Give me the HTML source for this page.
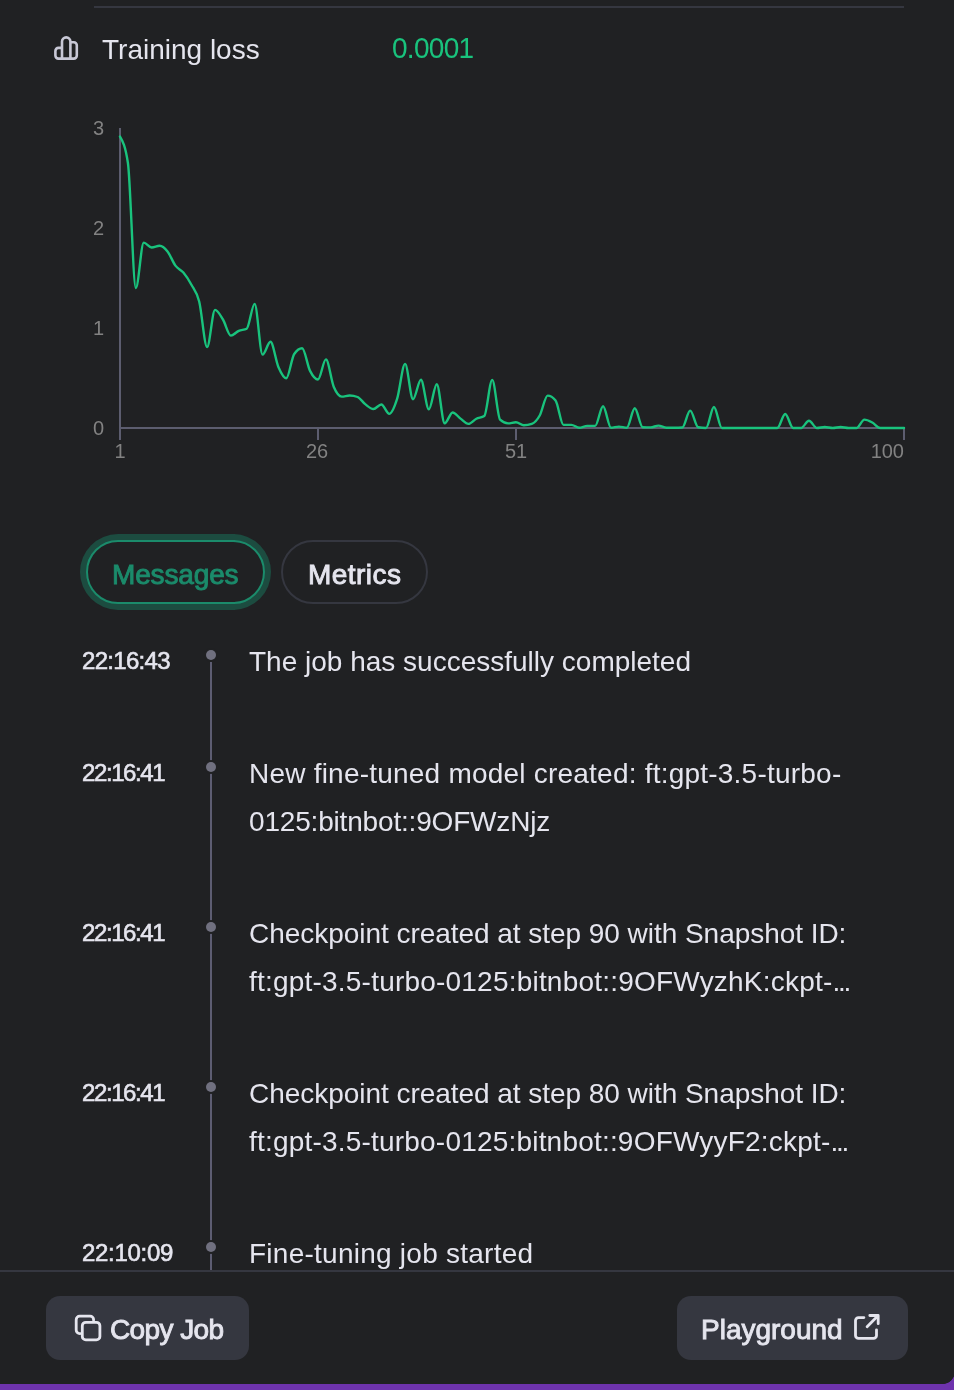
<!DOCTYPE html>
<html><head><meta charset="utf-8">
<style>
*{box-sizing:border-box;margin:0;padding:0}
html,body{width:954px;height:1390px;overflow:hidden}
body{background:#6e33ad;font-family:"Liberation Sans",sans-serif;position:relative}
#panel{position:absolute;left:-20px;top:0;width:975px;height:1384px;background:#202123;border-bottom-right-radius:13px;overflow:hidden}
#in{will-change:transform;position:absolute;left:20px;top:0;width:954px;height:1384px}
.abs{position:absolute;white-space:nowrap}
.t28{font-size:28px;line-height:48px;color:#e5e5ee}
.time{font-size:24px;line-height:48px;color:#e5e5ee;-webkit-text-stroke:0.6px #e5e5ee;letter-spacing:-0.7px}
.btn{position:absolute;border-radius:14px;background:#353740}
.bt{font-size:28px;line-height:48px;color:#e5e5ee;-webkit-text-stroke:0.9px #e5e5ee}
</style></head><body>
<div id="panel"><div id="in">
<div class="abs" style="left:94px;top:6px;width:810px;height:2px;background:#353740"></div>
<svg class="abs" style="left:0;top:0" width="100" height="80" viewBox="0 0 100 80">
 <path d="M55.4,55.6 V50.9 a3,3 0 0 1 3,-3 H62 V41.6 a4.2,4.2 0 0 1 8.4,0 V42.2 H73.8 a3,3 0 0 1 3,3 V55.6 a3,3 0 0 1 -3,3 H58.4 a3,3 0 0 1 -3,-3 Z M62,47.9 V58.6 M70.4,42.2 V58.6" fill="none" stroke="#c8c8d6" stroke-width="2.6" stroke-linejoin="round"/>
</svg>
<div class="abs" style="left:102px;top:29.6px;font-size:28px;line-height:40px;color:#e5e5ee">Training loss</div>
<div class="abs" style="left:392px;top:29.3px;font-size:28px;line-height:40px;color:#19c37d;letter-spacing:-0.7px;transform:scaleY(1.07);transform-origin:0 29.4px">0.0001</div>
<svg class="abs" style="left:0;top:0" width="954" height="480" viewBox="0 0 954 480">
 <g stroke="#5c5d6f" stroke-width="2" fill="none">
  <path d="M120,128V440"/>
  <path d="M120,428H904"/>
  <path d="M318,428V440M516,428V440M904,428V440"/>
 </g>
 <g fill="#828282" font-family="Liberation Sans" font-size="20">
  <text x="104" y="135" text-anchor="end">3</text>
  <text x="104" y="235" text-anchor="end">2</text>
  <text x="104" y="335" text-anchor="end">1</text>
  <text x="104" y="435" text-anchor="end">0</text>
  <text x="120" y="458" text-anchor="middle">1</text>
  <text x="317" y="458" text-anchor="middle">26</text>
  <text x="516" y="458" text-anchor="middle">51</text>
  <text x="904" y="458" text-anchor="end">100</text>
 </g>
 <path d="M120.00,136.60C122.64,141.00,125.28,145.40,127.92,163.00C130.56,180.60,133.20,288.00,135.84,288.00C138.48,288.00,141.12,242.60,143.76,242.60C146.40,242.60,149.04,247.50,151.68,247.50C154.32,247.50,156.96,245.80,159.60,245.80C162.24,245.80,164.88,248.10,167.52,251.40C170.15,254.70,172.79,262.07,175.43,265.60C178.07,269.13,180.71,269.45,183.35,272.60C185.99,275.75,188.63,279.68,191.27,284.50C193.91,289.32,196.55,291.08,199.19,301.50C201.83,311.92,204.47,347.00,207.11,347.00C209.75,347.00,212.39,309.90,215.03,309.90C217.67,309.90,220.31,315.22,222.95,319.50C225.59,323.78,228.23,335.60,230.87,335.60C233.51,335.60,236.15,331.95,238.79,330.80C241.43,329.65,244.07,330.10,246.71,328.70C249.35,327.30,251.99,303.90,254.63,303.90C257.27,303.90,259.91,354.60,262.55,354.60C265.19,354.60,267.82,341.80,270.46,341.80C273.10,341.80,275.74,360.92,278.38,367.00C281.02,373.08,283.66,378.30,286.30,378.30C288.94,378.30,291.58,357.80,294.22,354.00C296.86,350.20,299.50,348.30,302.14,348.30C304.78,348.30,307.42,365.70,310.06,370.90C312.70,376.10,315.34,379.50,317.98,379.50C320.62,379.50,323.26,359.40,325.90,359.40C328.54,359.40,331.18,380.80,333.82,387.00C336.46,393.20,339.10,396.60,341.74,396.60C344.38,396.60,347.02,395.50,349.66,395.50C352.30,395.50,354.94,396.00,357.58,397.00C360.22,398.00,362.86,402.40,365.49,404.40C368.13,406.40,370.77,409.00,373.41,409.00C376.05,409.00,378.69,404.50,381.33,404.50C383.97,404.50,386.61,413.90,389.25,413.90C391.89,413.90,394.53,407.03,397.17,398.70C399.81,390.37,402.45,363.90,405.09,363.90C407.73,363.90,410.37,399.20,413.01,399.20C415.65,399.20,418.29,379.80,420.93,379.80C423.57,379.80,426.21,409.40,428.85,409.40C431.49,409.40,434.13,384.20,436.77,384.20C439.41,384.20,442.05,423.30,444.69,423.30C447.33,423.30,449.97,412.50,452.61,412.50C455.25,412.50,457.89,416.70,460.53,418.60C463.16,420.50,465.80,423.90,468.44,423.90C471.08,423.90,473.72,420.02,476.36,418.70C479.00,417.38,481.64,417.80,484.28,416.00C486.92,414.20,489.56,379.90,492.20,379.90C494.84,379.90,497.48,417.23,500.12,419.70C502.76,422.17,505.40,423.40,508.04,423.40C510.68,423.40,513.32,422.30,515.96,422.30C518.60,422.30,521.24,425.30,523.88,425.30C526.52,425.30,529.16,424.83,531.80,423.90C534.44,422.97,537.08,420.22,539.72,415.50C542.36,410.78,545.00,395.60,547.64,395.60C550.28,395.60,552.92,397.23,555.56,400.50C558.20,403.77,560.84,424.90,563.47,424.90C566.11,424.90,568.75,424.90,571.39,424.90C574.03,424.90,576.67,427.70,579.31,427.70C581.95,427.70,584.59,425.90,587.23,425.90C589.87,425.90,592.51,425.90,595.15,425.90C597.79,425.90,600.43,406.20,603.07,406.20C605.71,406.20,608.35,427.70,610.99,427.70C613.63,427.70,616.27,426.60,618.91,426.60C621.55,426.60,624.19,427.70,626.83,427.70C629.47,427.70,632.11,408.30,634.75,408.30C637.39,408.30,640.03,427.07,642.67,427.20C645.31,427.33,647.95,427.40,650.59,427.40C653.23,427.40,655.87,425.60,658.51,425.60C661.14,425.60,663.78,427.70,666.42,427.70C669.06,427.70,671.70,427.70,674.34,427.70C676.98,427.70,679.62,427.63,682.26,427.50C684.90,427.37,687.54,410.60,690.18,410.60C692.82,410.60,695.46,426.67,698.10,427.20C700.74,427.73,703.38,428.00,706.02,428.00C708.66,428.00,711.30,407.00,713.94,407.00C716.58,407.00,719.22,428.00,721.86,428.00C724.50,428.00,727.14,428.00,729.78,428.00C732.42,428.00,735.06,428.00,737.70,428.00C740.34,428.00,742.98,428.00,745.62,428.00C748.26,428.00,750.90,428.00,753.54,428.00C756.18,428.00,758.81,428.00,761.45,428.00C764.09,428.00,766.73,428.00,769.37,428.00C772.01,428.00,774.65,428.00,777.29,428.00C779.93,428.00,782.57,414.00,785.21,414.00C787.85,414.00,790.49,428.00,793.13,428.00C795.77,428.00,798.41,428.00,801.05,428.00C803.69,428.00,806.33,420.70,808.97,420.70C811.61,420.70,814.25,428.00,816.89,428.00C819.53,428.00,822.17,427.00,824.81,427.00C827.45,427.00,830.09,428.00,832.73,428.00C835.37,428.00,838.01,427.00,840.65,427.00C843.29,427.00,845.93,428.00,848.57,428.00C851.21,428.00,853.85,428.00,856.48,428.00C859.12,428.00,861.76,419.60,864.40,419.60C867.04,419.60,869.68,421.10,872.32,422.50C874.96,423.90,877.60,428.00,880.24,428.00C882.88,428.00,885.52,428.00,888.16,428.00C890.80,428.00,893.44,428.00,896.08,428.00C898.72,428.00,901.36,428.00,904.00,428.00" fill="none" stroke="#19c37d" stroke-width="2.4" stroke-linejoin="round" stroke-linecap="round"/>
</svg>

<div class="abs" style="left:80px;top:534px;width:191px;height:76px;border-radius:38px;background:#1c4c40"></div>
<div class="abs" style="left:86px;top:540px;width:179px;height:64px;border-radius:32px;background:#202123;border:2px solid #1b8b6b;color:#1b8b6b;font-size:28px;-webkit-text-stroke:0.9px #1b8b6b;line-height:66.5px;letter-spacing:-0.15px;padding-left:24px">Messages</div>
<div class="abs" style="left:281px;top:540px;width:147px;height:64px;border-radius:32px;border:2px solid #353740;color:#e5e5ee;font-size:28px;-webkit-text-stroke:0.9px #e5e5ee;line-height:66.5px;letter-spacing:0.45px;padding-left:25px">Metrics</div>

<div class="abs" style="left:210px;top:662px;width:2px;height:620px;background:#5d5d72"></div>
<div class="abs" style="left:204px;top:648px;width:14px;height:14px;border-radius:7px;background:#202123"></div>
<div class="abs" style="left:206px;top:650px;width:10px;height:10px;border-radius:5px;background:#70707f"></div>
<div class="abs time" style="left:82px;top:637px;letter-spacing:-0.7px">22:16:43</div>
<div class="abs t28" style="left:249px;top:637.8px"><span style="letter-spacing:0px">The job has successfully completed</span></div>
<div class="abs" style="left:204px;top:760px;width:14px;height:14px;border-radius:7px;background:#202123"></div>
<div class="abs" style="left:206px;top:762px;width:10px;height:10px;border-radius:5px;background:#70707f"></div>
<div class="abs time" style="left:82px;top:749px;letter-spacing:-1.4px">22:16:41</div>
<div class="abs t28" style="left:249px;top:749.8px"><span style="letter-spacing:0.22px">New fine-tuned model created: ft:gpt-3.5-turbo-</span><br><span style="letter-spacing:-0.18px">0125:bitnbot::9OFWzNjz</span></div>
<div class="abs" style="left:204px;top:920px;width:14px;height:14px;border-radius:7px;background:#202123"></div>
<div class="abs" style="left:206px;top:922px;width:10px;height:10px;border-radius:5px;background:#70707f"></div>
<div class="abs time" style="left:82px;top:909px;letter-spacing:-1.4px">22:16:41</div>
<div class="abs t28" style="left:249px;top:909.8px"><span style="letter-spacing:-0.04px">Checkpoint created at step 90 with Snapshot ID:</span><br><span style="letter-spacing:0.21px">ft:gpt-3.5-turbo-0125:bitnbot::9OFWyzhK:ckpt-<span style="letter-spacing:-2.3px">...</span></span></div>
<div class="abs" style="left:204px;top:1080px;width:14px;height:14px;border-radius:7px;background:#202123"></div>
<div class="abs" style="left:206px;top:1082px;width:10px;height:10px;border-radius:5px;background:#70707f"></div>
<div class="abs time" style="left:82px;top:1069px;letter-spacing:-1.4px">22:16:41</div>
<div class="abs t28" style="left:249px;top:1069.8px"><span style="letter-spacing:-0.04px">Checkpoint created at step 80 with Snapshot ID:</span><br><span style="letter-spacing:0.2px">ft:gpt-3.5-turbo-0125:bitnbot::9OFWyyF2:ckpt-<span style="letter-spacing:-2.3px">...</span></span></div>
<div class="abs" style="left:204px;top:1240px;width:14px;height:14px;border-radius:7px;background:#202123"></div>
<div class="abs" style="left:206px;top:1242px;width:10px;height:10px;border-radius:5px;background:#70707f"></div>
<div class="abs time" style="left:82px;top:1229px;letter-spacing:-0.3px">22:10:09</div>
<div class="abs t28" style="left:249px;top:1229.8px"><span style="letter-spacing:0.25px">Fine-tuning job started</span></div>

<div class="abs" style="left:-20px;top:1270px;width:1000px;height:120px;background:#202123;border-top:2px solid #353740"></div>
<div class="btn" style="left:46px;top:1296px;width:203px;height:64px"></div>
<div class="abs bt" style="left:110px;top:1306px;letter-spacing:-0.6px">Copy Job</div>
<div class="btn" style="left:677px;top:1296px;width:231px;height:64px"></div>
<div class="abs bt" style="left:701px;top:1306px;letter-spacing:0px">Playground</div>
<svg class="abs" style="left:0;top:1290px" width="954" height="80" viewBox="0 1290 954 80">
 <path d="M93.6,1320.2 V1319.7 a3.5,3.5 0 0 0 -3.5,-3.5 H79.7 a3.5,3.5 0 0 0 -3.5,3.5 V1330.1 a3.5,3.5 0 0 0 3.5,3.5 H80.2" fill="none" stroke="#e5e5ee" stroke-width="2.8" stroke-linecap="round" stroke-linejoin="round"/>
 <rect x="82.3" y="1322.3" width="17.6" height="17.6" rx="3.5" fill="none" stroke="#e5e5ee" stroke-width="2.8"/>
 <path d="M863.9,1317.6 H858.5 a3,3 0 0 0 -3,3 V1335.4 a3,3 0 0 0 3,3 H873.5 a3,3 0 0 0 3,-3 V1329.8 M867.1,1326.7 L878.2,1315.5 M869.8,1315.5 H878.2 V1323.7" fill="none" stroke="#e5e5ee" stroke-width="2.8" stroke-linecap="round" stroke-linejoin="round"/>
</svg>
</div></div>
</body></html>
